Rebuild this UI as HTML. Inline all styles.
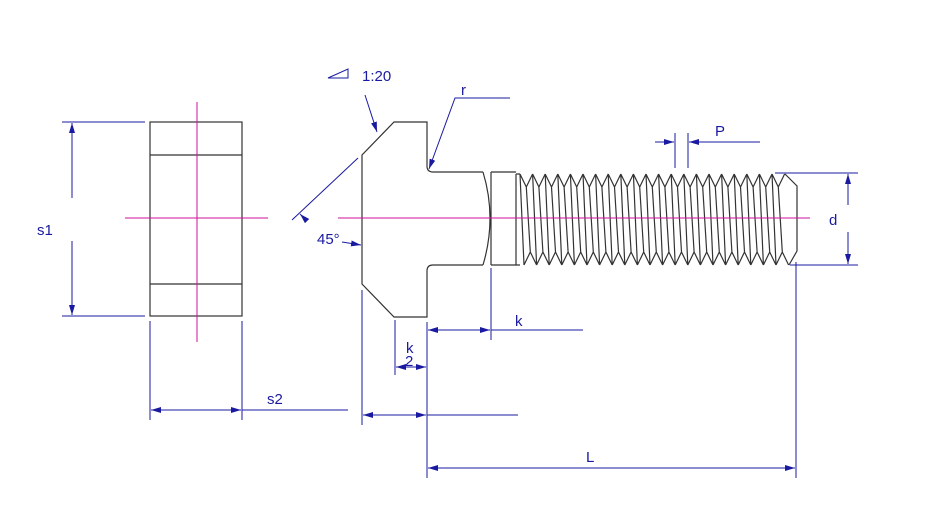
<!DOCTYPE html>
<html><head><meta charset="utf-8"><style>
html,body{margin:0;padding:0;background:#fff}
svg{display:block}
text{font-family:"Liberation Sans",sans-serif;fill:#1a1aa0;font-size:15px}
</style></head><body>
<svg id="s" width="945" height="518" viewBox="0 0 945 518" xmlns="http://www.w3.org/2000/svg">
<defs><marker id="a" viewBox="0 0 10 6" refX="10" refY="3" markerWidth="10" markerHeight="6" orient="auto-start-reverse" markerUnits="userSpaceOnUse"><path d="M0,0L10,3L0,6z" fill="#1a1aa0"/></marker></defs>
<g stroke="#333" stroke-width="1.2" fill="none">
<rect x="150" y="122" width="92" height="194"/>
<line x1="150" y1="155" x2="242" y2="155"/><line x1="150" y1="284" x2="242" y2="284"/>
<path d="M483,172H433Q427,172 427,166V122H394L362,155V284L394,317H427V271Q427,265 433,265H483"/>
<path d="M483,172Q497,218 483,265M491,172V265M491,172H516M491,265H516"/>
<g id="th"></g>
</g>
<g stroke="#d0109a" stroke-width="1">
<line x1="197" y1="102" x2="197" y2="342"/><line x1="125" y1="218" x2="268" y2="218"/>
<line x1="338" y1="218" x2="810" y2="218"/>
</g>
<g stroke="#1a1aa0" stroke-width="1" fill="none">
<line x1="62" y1="122" x2="145" y2="122"/><line x1="62" y1="316" x2="145" y2="316"/>
<line x1="72" y1="198" x2="72" y2="123" marker-end="url(#a)"/><line x1="72" y1="241" x2="72" y2="315" marker-end="url(#a)"/>
<line x1="150" y1="321" x2="150" y2="420"/><line x1="242" y1="321" x2="242" y2="420"/>
<line x1="151" y1="410" x2="241" y2="410" marker-start="url(#a)" marker-end="url(#a)"/><line x1="242" y1="410" x2="348" y2="410"/>
<line x1="362" y1="290" x2="362" y2="425"/><line x1="427" y1="322" x2="427" y2="478"/>
<line x1="363" y1="415" x2="426" y2="415" marker-start="url(#a)" marker-end="url(#a)"/><line x1="427" y1="415" x2="518" y2="415"/>
<line x1="395" y1="320" x2="395" y2="375"/>
<line x1="396" y1="367" x2="426" y2="367" marker-start="url(#a)" marker-end="url(#a)"/>
<line x1="491" y1="268" x2="491" y2="340"/>
<line x1="428" y1="330" x2="490" y2="330" marker-start="url(#a)" marker-end="url(#a)"/><line x1="491" y1="330" x2="583" y2="330"/>
<line x1="796" y1="262" x2="796" y2="478"/>
<line x1="428" y1="468" x2="795" y2="468" marker-start="url(#a)" marker-end="url(#a)"/>
<line x1="775" y1="173" x2="858" y2="173"/><line x1="790" y1="265" x2="858" y2="265"/>
<line x1="848" y1="205" x2="848" y2="174" marker-end="url(#a)"/><line x1="848" y1="232" x2="848" y2="264" marker-end="url(#a)"/>
<line x1="675" y1="133" x2="675" y2="168"/><line x1="688" y1="133" x2="688" y2="168"/>
<line x1="655" y1="142" x2="674" y2="142" marker-end="url(#a)"/><line x1="760" y1="142" x2="689" y2="142" marker-end="url(#a)"/>
<path d="M328,78L348,69V78Z"/>
<line x1="365" y1="95" x2="377" y2="132" marker-end="url(#a)"/>
<path d="M510,98H455L429,169" marker-end="url(#a)"/>
<line x1="292" y1="220" x2="358" y2="158"/>
<line x1="300" y1="214" x2="307" y2="221" marker-start="url(#a)"/>
<line x1="342" y1="242" x2="361" y2="245" marker-end="url(#a)"/>
</g>
<text x="37" y="235">s1</text>
<text x="267" y="404">s2</text>
<text x="362" y="81">1:20</text>
<text x="461" y="95">r</text>
<text x="317" y="244">45°</text>
<text x="515" y="326">k</text>
<text x="406" y="353">k</text>
<text x="405" y="366">2</text>
<text x="586" y="462">L</text>
<text x="829" y="225">d</text>
<text x="715" y="136">P</text>
</svg>
<script>
var g=document.getElementById('th'),d='',p=12.6,x0=520;
for(var i=0;i<21;i++){var x=x0+i*p;
d+='M'+x+',174L'+(x+p/2)+',187L'+(x+p)+',174';
d+='M'+(x+4)+',265L'+(x+p/2+4)+',252L'+(x+p+4)+',265';
d+='M'+(x+p/2)+',187L'+(x+p/2+4)+',252';
d+='M'+x+',174L'+(x+4)+',265';}
d+='M516,174L520,174M516,174V265M520,265H516';
d+='M785,174L797,186V251L789,265';
var e=document.createElementNS('http://www.w3.org/2000/svg','path');e.setAttribute('d',d);g.appendChild(e);
</script>
</body></html>
